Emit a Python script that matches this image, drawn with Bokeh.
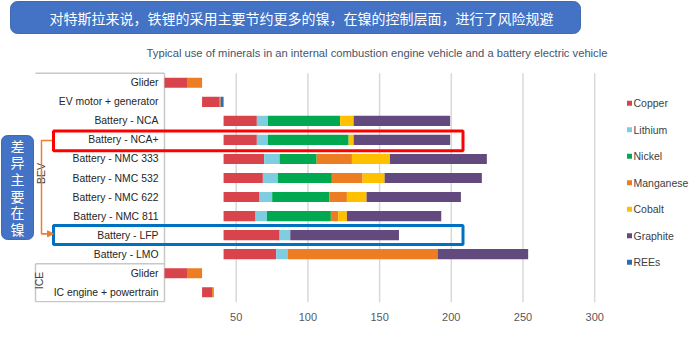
import numpy as np
from bokeh.plotting import figure
from bokeh.models import (ColumnDataSource, Range1d, FixedTicker, BoxAnnotation,
                          Label, Arrow, NormalHead)
from bokeh.core.properties import value
from bokeh.embed import file_html
from bokeh.resources import INLINE

# ---------------- data ----------------
rows = ["Glider", "EV motor + generator", "Battery - NCA", "Battery - NCA+",
        "Battery - NMC 333", "Battery - NMC 532", "Battery - NMC 622",
        "Battery - NMC 811", "Battery - LFP", "Battery - LMO",
        "Glider", "IC engine + powertrain"]
groups = ["BEV", "ICE"]
minerals = ["Copper", "Lithium", "Nickel", "Manganese", "Cobalt", "Graphite", "REEs"]
colors = ["#d9434b", "#7fcde1", "#00a84f", "#ec7d23", "#ffc000", "#634a7e", "#2f6cb0"]

copper    = [16.2, 11.8, 23.2, 23.2, 28.3, 27.4, 25.1, 22.3, 39.1, 36.7, 16.2, 7.0]
lithium   = [0.0,  0.0,  7.7,  7.7, 10.8, 10.5,  8.8,  7.9,  7.4,  7.9, 0.0, 0.0]
nickel    = [0.0,  0.0, 50.4, 56.3, 25.8, 37.6, 39.8, 44.6,  0.0,  0.0, 0.0, 0.0]
manganese = [10.0, 1.2,  0.0,  0.0, 24.6, 21.4, 12.3,  5.1,  0.0, 104.6, 10.0, 1.2]
cobalt    = [0.0,  0.0,  9.4,  3.5, 26.5, 15.4, 13.7,  6.1,  0.0,  0.0, 0.0, 0.0]
graphite  = [0.0,  0.0, 67.3, 67.3, 67.6, 67.8, 65.8, 65.8, 75.8, 63.2, 0.0, 0.0]
rees      = [0.0,  2.0,  0.0,  0.0,  0.0,  0.0,  0.0,  0.0,  0.0,  0.0, 0.0, 0.0]

ticks = [50, 100, 150, 200, 250, 300]

title_text = "对特斯拉来说，铁锂的采用主要节约更多的镍，在镍的控制层面，进行了风险规避"
subtitle_text = ("Typical use of minerals in an internal combustion engine vehicle "
                 "and a battery electric vehicle")
side_note = "差异主要在镍"
axis_title = "kg per vehicle"

# ---------------- waterfall bases (computed from the data) ----------------
vals = np.array([copper, lithium, nickel, manganese, cobalt, graphite, rees])
totals = vals.sum(axis=0)
base = np.zeros(len(rows))
base[1] = totals[0]                       # EV motor sits on BEV glider
base[2:10] = totals[0] + totals[1]        # batteries sit on glider + motor
base[11] = totals[10]                     # IC engine sits on ICE glider

# ---------------- geometry (layout only) ----------------
W, H = 700, 351
FRAME_H = 302
PXU = 1.434          # px per kg
ZERO_PX = 164        # pixel of 0 kg
ROW0_PX = 82.3       # pixel of first row centre
ROW_PX = 19.04       # pixel per row


def X(px):
    return (px - ZERO_PX) / PXU


def Y(py):
    return (py - ROW0_PX) / ROW_PX


FONT = "Liberation Sans"
CJK = "Noto Sans CJK SC"

p = figure(width=W, height=H, output_backend="svg", toolbar_location=None,
           x_range=Range1d(X(0), X(W)), y_range=Range1d(Y(FRAME_H), Y(0)),
           y_axis_location=None, min_border_left=0, min_border_right=0,
           min_border_top=0, min_border_bottom=H - FRAME_H,
           outline_line_color=None, background_fill_color="white",
           border_fill_color="white")
p.xgrid.visible = False
p.ygrid.visible = False

# x axis
ax = p.xaxis[0]
ax.ticker = FixedTicker(ticks=ticks)
ax.axis_line_color = None
ax.major_tick_line_color = None
ax.minor_tick_line_color = None
ax.major_label_standoff = 4
ax.major_label_text_font = FONT
ax.major_label_text_font_size = "11px"
ax.major_label_text_color = "#595959"

# grid lines from the tick list
n = len(rows)
p.segment(x0=ticks, x1=ticks, y0=[-0.5] * len(ticks), y1=[Y(FRAME_H)] * len(ticks),
          line_color="#d9d9d9", line_width=1.5)

# category box lines
box_c = "#c8c8c8"
p.segment(x0=[X(35), X(35), X(35), 0, X(35)],
          x1=[0, 0, 0, 0, X(35)],
          y0=[-0.5, 9.5, n - 0.5, -0.5, 9.5],
          y1=[-0.5, 9.5, n - 0.5, n - 0.5, n - 0.5],
          line_color=box_c, line_width=1.5)

# stacked (waterfall) bars
src = ColumnDataSource(dict(y=list(range(n)), base=base,
                            **{m: v for m, v in zip(minerals, vals)}))
p.hbar_stack(["base"] + minerals, y="y", height=0.53, source=src,
             fill_color=["white"] + colors, fill_alpha=[0] + [1] * len(minerals),
             line_color=None)

# category labels
p.text(x=[X(158)] * n, y=list(range(n)), text=rows, text_align="right",
       text_baseline="middle", text_font=value(FONT), text_font_size="10.4px",
       text_color="#262626")

# group labels
p.text(x=[X(40), X(38.5)], y=[Y(173), Y(280)], text=groups, angle=np.pi / 2,
       text_align="center", text_baseline="middle", text_font=value(FONT),
       text_font_size="10.5px", text_color="#404040")

# legend (manual, from mineral list)
ly = [Y(102.7) + k * 26.5 / ROW_PX for k in range(len(minerals))]
p.scatter(x=[X(629)] * len(minerals), y=ly, marker="square", size=5,
          fill_color=colors, line_color=None)
p.text(x=[X(633)] * len(minerals), y=ly, text=minerals, text_align="left",
       text_baseline="middle", text_font=value(FONT), text_font_size="10.5px",
       text_color="#404040")

# title banner
p.add_layout(BoxAnnotation(left=X(10), right=X(580), top=Y(1), bottom=Y(33),
                           fill_color="#4472c4", fill_alpha=1, line_color="#3f68b5",
                           line_alpha=1, line_width=1, border_radius=7,
                           level="underlay"))
p.text(x=[X(301)], y=[Y(17)], text=[title_text], text_align="center",
       text_baseline="middle", text_font=value(CJK), text_font_size="14px",
       text_color="white")

# subtitle
p.text(x=[X(376.5)], y=[Y(52)], text=[subtitle_text], text_align="center",
       text_baseline="middle", text_font=value(FONT), text_font_size="11.2px",
       text_color="#44546a")

# highlight boxes
p.add_layout(BoxAnnotation(left=X(53), right=X(462.5), top=Y(130.5), bottom=Y(150.3),
                           fill_alpha=0, line_color="#ff0000", line_alpha=1,
                           line_width=3))
p.add_layout(BoxAnnotation(left=X(53), right=X(462.5), top=Y(225), bottom=Y(244),
                           fill_alpha=0, line_color="#0070c0", line_alpha=1,
                           line_width=3))

# orange bracket with arrow
orange = "#ed7d31"
p.line(x=[X(53), X(41), X(41), X(46)], y=[Y(140), Y(140), Y(233.3), Y(233.3)],
       line_color=orange, line_width=1.5)
p.add_layout(Arrow(x_start=X(41), y_start=Y(233.3), x_end=X(53), y_end=Y(233.3),
                   line_color=orange, line_width=1.5,
                   end=NormalHead(size=6, fill_color=orange, line_color=orange)))

# side note box
p.add_layout(BoxAnnotation(left=X(1), right=X(33), top=Y(135), bottom=Y(239),
                           fill_color="#4472c4", fill_alpha=1, line_color="#3f68b5",
                           line_alpha=1, line_width=1, border_radius=6,
                           level="underlay"))
chars = list(side_note)
p.text(x=[X(17)] * len(chars), y=[Y(145 + 16.7 * k) for k in range(len(chars))],
       text=chars, text_align="center", text_baseline="middle",
       text_font=value(CJK), text_font_size="14px", text_color="white")

# axis title
p.add_layout(Label(x=X(490), y=-(338 - FRAME_H), y_units="screen", text=axis_title,
                   text_align="center", text_baseline="middle", text_font=FONT,
                   text_font_size="10.5px", text_color="#404040"))

open("out.html", "w").write(file_html(p, INLINE))
